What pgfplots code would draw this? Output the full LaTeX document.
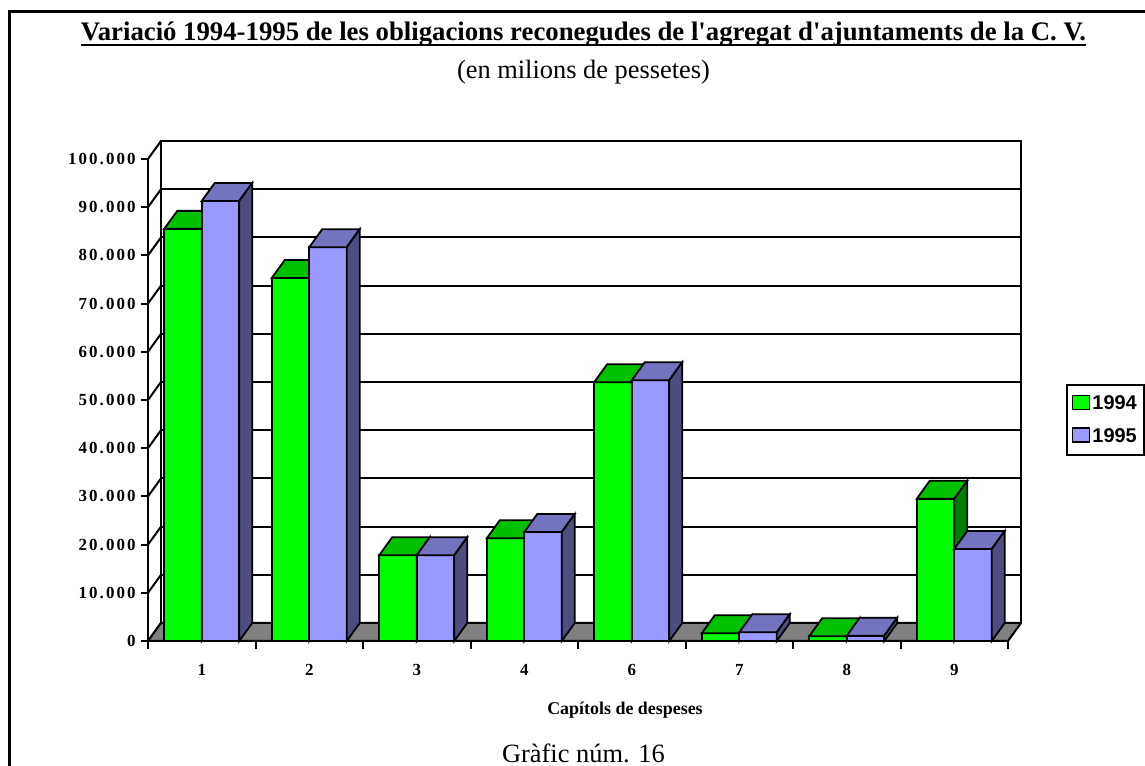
\documentclass[border=0pt]{standalone}
\usepackage{pgfplots}
\usepackage{pgfplotstable}
\pgfplotsset{compat=1.18}
\usepackage{fontspec}
\setmainfont{Liberation Serif}
\newfontfamily\tickfamily[LetterSpace=12]{Liberation Serif}
\newfontfamily\legfamily{Liberation Sans}

\definecolor{gfront}{RGB}{0,255,0}
\definecolor{gtop}{RGB}{0,192,0}
\definecolor{gside}{RGB}{0,128,0}
\definecolor{bfront}{RGB}{153,153,255}
\definecolor{btop}{RGB}{115,115,191}
\definecolor{bside}{RGB}{77,77,128}
\definecolor{floorgray}{RGB}{128,128,128}

\pgfplotstableread{
x   g     b
0.5 85500 91300
1.5 75300 81700
2.5 17800 17800
3.5 21300 22600
4.5 53700 54100
5.5 1600  1800
6.5 1000  1100
7.5 29500 19100
}\data

% front, top and side faces of a bar, drawn at the bar's top-centre (front face)
\newcommand\barfaces[3]{%
  \pgfsetlinewidth{1.8bp}%
  \pgfsetfillcolor{#3}%
  \pgfpathrectanglecorners{\pgfpoint{-18.75bp}{-\hh bp}}{\pgfpoint{18.75bp}{0bp}}%
  \pgfusepath{fill,stroke}%
  \pgfsetfillcolor{#1}%
  \pgfpathmoveto{\pgfpoint{-18.75bp}{0bp}}%
  \pgfpathlineto{\pgfpoint{18.75bp}{0bp}}%
  \pgfpathlineto{\pgfpoint{31.75bp}{18bp}}%
  \pgfpathlineto{\pgfpoint{-5.75bp}{18bp}}%
  \pgfpathclose
  \pgfusepath{fill,stroke}%
  \pgfsetfillcolor{#2}%
  \pgfpathmoveto{\pgfpoint{18.75bp}{0bp}}%
  \pgfpathlineto{\pgfpoint{31.75bp}{18bp}}%
  \pgfpathlineto{\pgfpoint{31.75bp}{18bp-\hh bp}}%
  \pgfpathlineto{\pgfpoint{18.75bp}{-\hh bp}}%
  \pgfpathclose
  \pgfusepath{fill,stroke}%
}
\pgfdeclareplotmark{g3d}{\barfaces{gtop}{gside}{gfront}}
\pgfdeclareplotmark{b3d}{\barfaces{btop}{bside}{bfront}}

\begin{document}
\begin{tikzpicture}
\path[use as bounding box] (0,0) rectangle (1145bp,766bp);
% outer frame
\draw[line width=3bp] (9bp,754bp) -- (1160bp,754bp) -- (1160bp,-10bp) -- (9bp,-10bp) -- cycle;

% title
\node[anchor=base, inner sep=0pt] (t) at (583.5bp,725bp)
  {\fontsize{26.85}{30}\selectfont\bfseries Variació 1994-1995 de les obligacions reconegudes de l\textquotesingle agregat d\textquotesingle ajuntaments de la C. V.};
\draw[line width=2.5bp] ([yshift=-4bp]t.base west) -- ([yshift=-4bp]t.base east);
\node[anchor=base, inner sep=0pt] at (583.5bp,687bp) {\fontsize{26.5}{30}\selectfont (en milions de pessetes)};
\node[anchor=base, inner sep=0pt] at (583.5bp,4bp) {\fontsize{26.5}{30}\selectfont Gràfic núm. 16};
\node[anchor=base, inner sep=0pt] at (625bp,51bp) {\fontsize{18}{22}\selectfont\bfseries Capítols de despeses};

% back wall with gridlines
\begin{axis}[at={(161bp,143bp)}, anchor=south west, scale only axis,
  width=860bp, height=482bp, xmin=0, xmax=8, ymin=0, ymax=100000,
  scaled y ticks=false,
  xtick=\empty, ytick={0,10000,20000,30000,40000,50000,60000,70000,80000,90000,100000},
  yticklabels={}, major tick length=0pt,
  ymajorgrids, grid style={black, line width=2bp},
  axis line style={line width=2bp}]
\end{axis}

% left wall diagonals
\foreach \i in {0,...,10}
  \draw[line width=2bp] (148bp,125bp+\i*48.2bp) -- ++(13bp,18bp);
% floor
\filldraw[fill=floorgray, line width=2bp, line join=round]
  (148bp,125bp) -- (1008bp,125bp) -- (1021bp,143bp) -- (161bp,143bp) -- cycle;

\begin{axis}[at={(148bp,125bp)}, anchor=south west, scale only axis,
  width=860bp, height=482bp, xmin=0, xmax=8, ymin=0, ymax=100000, clip=false,
  scaled y ticks=false,
  axis x line=bottom, axis y line=left, axis line style={-, line width=2bp},
  tick align=outside, major tick length=7bp, minor tick length=8bp,
  tick style={black, line width=2bp},
  ytick={0,10000,20000,30000,40000,50000,60000,70000,80000,90000,100000},
  yticklabels={0,10.000,20.000,30.000,40.000,50.000,60.000,70.000,80.000,90.000,100.000},
  xtick={0.5,1.5,2.5,3.5,4.5,5.5,6.5,7.5}, xticklabels={1,2,3,4,6,7,8,9},
  major x tick style={draw=none},
  minor xtick={0,1,2,3,4,5,6,7,8},
  ticklabel style={font=\tickfamily\bfseries\fontsize{17}{20}\selectfont},
  xticklabel style={yshift=-13bp},
  yticklabel style={xshift=-2bp},
  legend style={at={(1.0674,0.5332)}, anchor=north west, draw=black, line width=2bp,
    font=\legfamily\bfseries\fontsize{20}{24}\selectfont,
    inner xsep=5bp, inner ysep=10bp, row sep=15bp,
    nodes={inner xsep=2bp, inner ysep=1bp}},
  legend cell align=left,
  legend image code/.code={\draw[#1, line width=1.5bp] (0bp,-6bp) rectangle (17bp,8bp);},
]
\addplot[ybar, bar width=37.5bp, bar shift=-18.75bp, fill=gfront, draw=black, line width=2bp, forget plot]
  table[x=x, y=g] {\data};
\addplot[ybar, bar width=37.5bp, bar shift=18.75bp, fill=bfront, draw=black, line width=2bp, forget plot]
  table[x=x, y=b] {\data};
\addplot[only marks, mark=g3d, black, forget plot, visualization depends on={\thisrow{g}*0.00482 \as \hh}]
  table[x expr=\thisrow{x}-0.174419, y=g] {\data};
\addplot[only marks, mark=b3d, black, forget plot, visualization depends on={\thisrow{b}*0.00482 \as \hh}]
  table[x expr=\thisrow{x}+0.174419, y=b] {\data};
\addlegendimage{fill=gfront, draw=black}
\addlegendentry{1994}
\addlegendimage{fill=bfront, draw=black}
\addlegendentry{1995}
\end{axis}
\end{tikzpicture}
\end{document}
